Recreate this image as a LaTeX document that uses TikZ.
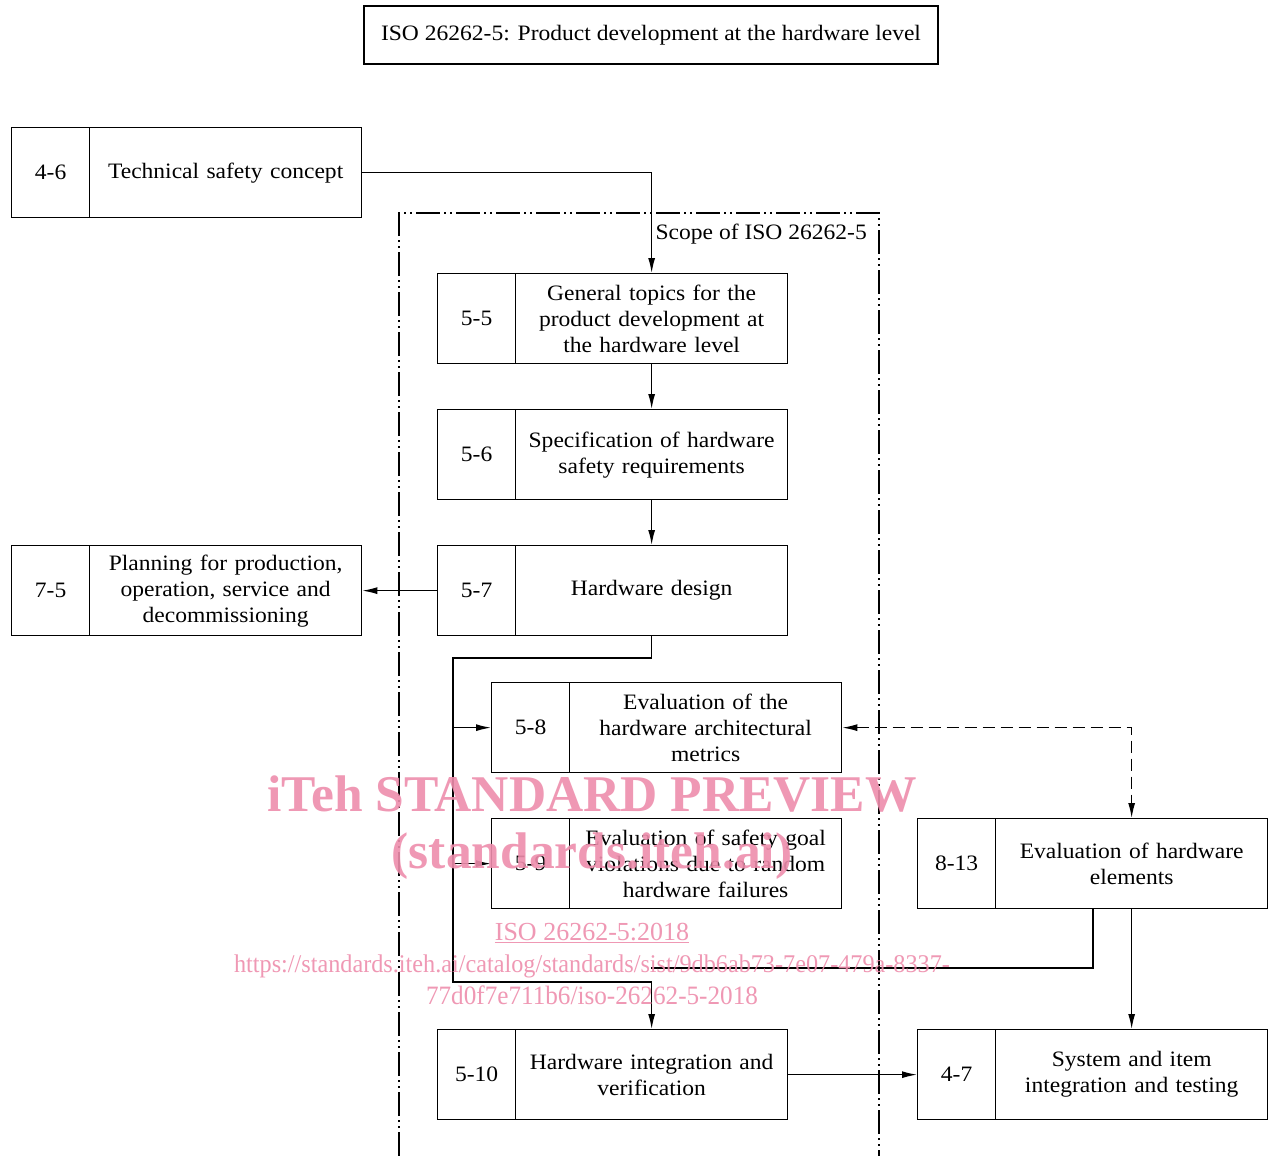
\documentclass[tikz,border=0pt]{standalone}
\usepackage{fontspec}
\setmainfont{Liberation Serif}[FakeStretch=1.07]
\newfontfamily\wmfont{Liberation Serif}
\newfontfamily\wmurlfont{Liberation Serif}[FakeStretch=0.95]
\usetikzlibrary{arrows.meta}
\definecolor{wm}{RGB}{238,141,172}
\begin{document}
\begin{tikzpicture}[x=1pt,y=-1pt,
  every node/.style={font=\fontsize{22}{26}\selectfont, inner sep=0pt},
  numbox/.style={draw, line width=1.3pt, minimum width=78pt, minimum height=90pt, anchor=north west},
  txtbox/.style={draw, line width=1.3pt, minimum width=272pt, minimum height=90pt, text width=268pt, align=center, anchor=north west},
  ln/.style={line width=1.3pt},
  conn/.style={line width=1.3pt, -{Latex[length=15pt,width=7pt]}},
  dconn/.style={line width=1.3pt, dash pattern=on 12pt off 6pt, {Latex[length=15pt,width=7pt]}-{Latex[length=15pt,width=7pt]}},
  frame/.style={line width=1.3pt, dash pattern=on 24pt off 4pt on 2pt off 4pt on 2pt off 4pt},
  wmbig/.style={text=wm, opacity=0.9, font=\wmfont\bfseries\fontsize{51.5}{58}\selectfont, anchor=base},
  wmsmall/.style={text=wm, opacity=0.9, font=\wmfont\fontsize{26}{30}\selectfont, anchor=base},
  wmurl/.style={text=wm, opacity=0.9, font=\wmurlfont\fontsize{25.5}{30}\selectfont, anchor=base}
]
\useasboundingbox[fill=white] (0,0) rectangle (1269,1156);

% scope frame
\draw[frame] (399,1156) -- (399,213) -- (879,213) -- (879,1156);
\node[anchor=east] (scope) at (867,234) {Scope of ISO 26262-5};

% title
\node[draw, line width=1.3pt, minimum width=574pt, minimum height=58pt] (title) at (651,35) {ISO 26262-5: Product development at the hardware level};

% boxes
\node[numbox] (n46) at (11,127) {4-6};
\node[txtbox] (t46) at (89,127) {Technical safety concept};
\node[numbox] (n55) at (437,273) {5-5};
\node[txtbox] (t55) at (515,273) {General topics for the\\ product development at\\ the hardware level};
\node[numbox] (n56) at (437,409) {5-6};
\node[txtbox] (t56) at (515,409) {Specification of hardware\\ safety requirements};
\node[numbox] (n57) at (437,545) {5-7};
\node[txtbox] (t57) at (515,545) {Hardware design};
\node[numbox] (n75) at (11,545) {7-5};
\node[txtbox] (t75) at (89,545) {Planning for production,\\ operation, service and\\ decommissioning};
\node[numbox] (n58) at (491,682) {5-8};
\node[txtbox] (t58) at (569,682) {Evaluation of the\\ hardware architectural\\ metrics};
\node[numbox] (n59) at (491,818) {5-9};
\node[txtbox] (t59) at (569,818) {Evaluation of safety goal\\ violations due to random\\ hardware failures};
\node[numbox] (n813) at (917,818) {8-13};
\node[txtbox] (t813) at (995,818) {Evaluation of hardware\\ elements};
\node[numbox] (n510) at (437,1029) {5-10};
\node[txtbox] (t510) at (515,1029) {Hardware integration and\\ verification};
\node[numbox] (n47) at (917,1029) {4-7};
\node[txtbox] (t47) at (995,1029) {System and item\\ integration and testing};

% connectors
\coordinate (bl) at (453,658);
\coordinate (bb) at (453,982);
\coordinate (c813) at (1093,908);
\coordinate (mj) at (651,968);
\draw[conn] (t46.east) -| (t55.north);
\draw[conn] (t55.south) -- (t56.north);
\draw[conn] (t56.south) -- (t57.north);
\draw[conn] (n57.west) -- (t75.east);
\draw[conn] (t57.south) |- (bl) -- (bb) -| (t510.north);
\draw[conn] (n58.west -| bl) -- (n58.west);
\draw[conn] (n59.west -| bl) -- (n59.west);
\draw[ln] (c813) |- (mj);
\draw[conn] (t813.south) -- (t47.north);
\draw[conn] (t510.east) -- (n47.west);
\draw[dconn] (t58.east) -| (t813.north);

% watermark
\node[wmbig] (wm1) at (592,811) {iTeh STANDARD PREVIEW};
\node[wmbig] (wm2) at (592,868) {(standards.iteh.ai)};
\node[wmsmall] (wm3) at (592,940) {\underline{ISO 26262-5:2018}};
\node[wmurl] (wm4) at (592,972) {https://standards.iteh.ai/catalog/standards/sist/9db6ab73-7e07-479a-8337-};
\node[wmurl, font=\wmurlfont\fontsize{26.5}{30}\selectfont] (wm5) at (592,1004) {77d0f7e711b6/iso-26262-5-2018};
\end{tikzpicture}
\end{document}
